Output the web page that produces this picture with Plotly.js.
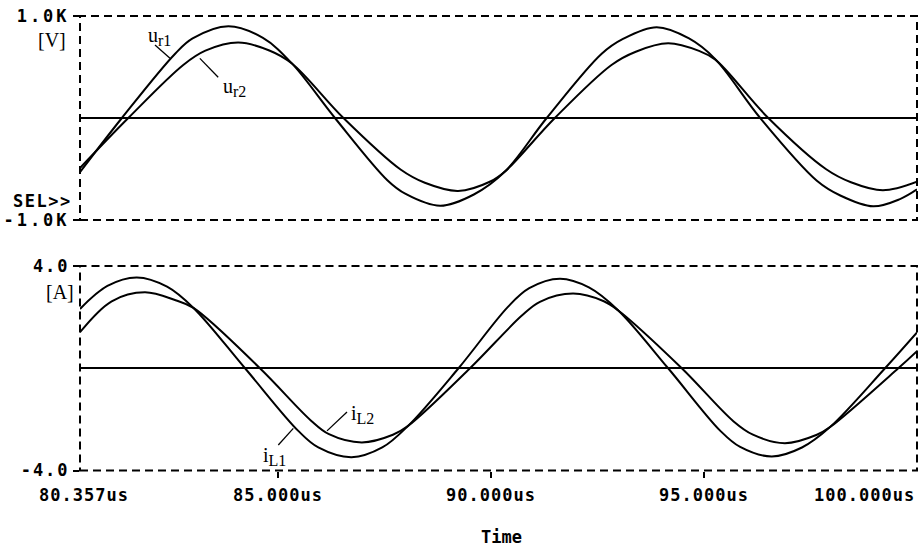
<!DOCTYPE html>
<html>
<head>
<meta charset="utf-8">
<script src="https://cdn.plot.ly/plotly-3.0.1.min.js"></script>
<style>
  html, body { margin: 0; padding: 0; background: #fff; }
  #chart { width: 922px; height: 550px; }
</style>
</head>
<body>
<div id="chart"></div>
<script>
// ---- data (time in microseconds) ----
const timeUr1 = [80.357, 81.34, 82.59, 83.0, 83.84, 84.65, 85.33, 86.34, 87.57, 88.0, 88.81, 89.6, 90.33, 91.31, 92.60, 93.1, 93.89, 94.65, 95.26, 96.32, 97.65, 98.2, 98.97, 99.6, 100];
const uR1     = [-530, 0, 630, 780, 900, 785, 535, 0, -610, -745, -860, -750, -525, 0, 630, 775, 890, 780, 580, 0, -615, -760, -866, -795, -700];

const timeUr2 = [80.357, 81.49, 82.78, 83.3, 84.07, 84.8, 85.33, 86.54, 87.88, 88.45, 89.23, 90.0, 90.33, 91.50, 92.83, 93.4, 94.16, 94.9, 95.26, 96.51, 97.86, 98.45, 99.20, 100];
const uR2     = [-490, 0, 520, 660, 740, 662, 535, 0, -505, -635, -715, -620, -525, 0, 520, 650, 732, 655, 575, 0, -500, -630, -709, -625];

const timeIL1 = [80.357, 81.0, 81.69, 82.4, 83.02, 84.23, 85.48, 85.95, 86.73, 87.45, 88.06, 89.24, 90.40, 90.9, 91.62, 92.3, 92.99, 94.16, 95.38, 95.85, 96.59, 97.3, 97.96, 99.25, 100];
const iL1     = [2.32, 3.22, 3.55, 3.19, 2.36, 0, -2.45, -3.10, -3.48, -3.10, -2.25, 0, 2.40, 3.13, 3.50, 3.16, 2.26, 0, -2.44, -3.08, -3.45, -3.10, -2.30, 0, 1.40];

const timeIL2 = [80.357, 81.1, 81.88, 82.6, 83.02, 84.58, 85.78, 86.2, 86.97, 87.7, 88.06, 89.51, 90.72, 91.15, 91.93, 92.65, 92.99, 94.48, 95.69, 96.15, 96.90, 97.65, 97.96, 99.56, 100];
const iL2     = [1.41, 2.62, 2.97, 2.66, 2.36, 0, -2.05, -2.58, -2.90, -2.60, -2.25, 0, 2.05, 2.60, 2.92, 2.62, 2.26, 0, -2.07, -2.60, -2.93, -2.60, -2.30, 0, 0.67];

const xTickValues = [80.357, 85, 90, 95, 100];
const xTickLabels = ['80.357us', '85.000us', '90.000us', '95.000us', '100.000us'];
const voltTickValues = [-1000, 1000];
const voltTickLabels = ['-1.0K', '1.0K'];
const ampTickValues = [-4, 4];
const ampTickLabels = ['-4.0', '4.0'];

// ---- styling ----
const MONO = {family: 'DejaVu Sans Mono, monospace', size: 17, color: '#000', weight: 'bold'};
const SERIF = {family: 'Liberation Serif, serif', size: 20, color: '#000'};
const lineStyle = {color: '#000', width: 2, shape: 'spline', smoothing: 1};
function spaced(s, px) { return '<span style="letter-spacing:' + px + 'px">' + s + '</span>'; }
function subLabel(main, sub) { return main + '<sub><span style="font-size:16px">' + sub + '</span></sub>'; }

const traces = [
  {x: timeUr1, y: uR1, xaxis: 'x', yaxis: 'y', mode: 'lines', line: lineStyle, name: 'u_r1'},
  {x: timeUr2, y: uR2, xaxis: 'x', yaxis: 'y', mode: 'lines', line: lineStyle, name: 'u_r2'},
  {x: timeIL1, y: iL1, xaxis: 'x2', yaxis: 'y2', mode: 'lines', line: lineStyle, name: 'i_L1'},
  {x: timeIL2, y: iL2, xaxis: 'x2', yaxis: 'y2', mode: 'lines', line: lineStyle, name: 'i_L2'}
];

const xRange = [xTickValues[0], xTickValues[xTickValues.length - 1]];

const yAxisCommon = {
  showgrid: false, zeroline: true, zerolinecolor: '#000', zerolinewidth: 2,
  ticks: 'outside', ticklen: 6, tickwidth: 2, tickcolor: '#000',
  showline: false, tickfont: MONO, fixedrange: true
};

const layout = {
  width: 922, height: 550,
  margin: {l: 80, r: 5, t: 0, b: 0},
  paper_bgcolor: '#fff', plot_bgcolor: '#fff',
  showlegend: false, hovermode: false,
  xaxis: {domain: [0, 1], range: xRange, anchor: 'y', showticklabels: false, showgrid: false,
          zeroline: false, ticks: '', showline: false, fixedrange: true},
  yaxis: Object.assign({domain: [1 - 220/550, 1 - 16/550], range: [-1000, 1000], anchor: 'x',
          tickmode: 'array', tickvals: voltTickValues,
          ticktext: voltTickLabels.map(function (s) { return spaced(s, 3); })}, yAxisCommon),
  xaxis2: {domain: [0, 1], range: xRange, anchor: 'y2', showticklabels: false, showgrid: false,
           zeroline: false, ticks: 'outside', ticklen: 6, tickwidth: 2, tickcolor: '#000',
           tickmode: 'array', tickvals: xTickValues.slice(1, -1), showline: false, fixedrange: true},
  yaxis2: Object.assign({domain: [1 - 470.5/550, 1 - 266/550], range: [-4, 4], anchor: 'x2',
           tickmode: 'array', tickvals: ampTickValues,
           ticktext: ampTickLabels.map(function (s) { return spaced(s, 2); })}, yAxisCommon),
  shapes: [
    {type: 'rect', xref: 'x domain', yref: 'y domain', x0: 0, x1: 1, y0: 0, y1: 1,
     line: {color: '#000', width: 2, dash: '8px,5px'}},
    {type: 'rect', xref: 'x2 domain', yref: 'y2 domain', x0: 0, x1: 1, y0: 0, y1: 1,
     line: {color: '#000', width: 2, dash: '8px,5px'}},
    // label leader lines
    {type: 'line', xref: 'x', yref: 'y', x0: 82.117, y0: 716, x1: 82.469, y1: 585, line: {color: '#000', width: 1.3}},
    {type: 'line', xref: 'x', yref: 'y', x0: 83.17, y0: 585, x1: 83.60, y1: 400, line: {color: '#000', width: 1.3}},
    {type: 'line', xref: 'x2', yref: 'y2', x0: 86.154, y0: -2.45, x1: 86.623, y1: -1.71, line: {color: '#000', width: 1.3}},
    {type: 'line', xref: 'x2', yref: 'y2', x0: 85.011, y0: -3.00, x1: 85.363, y1: -2.35, line: {color: '#000', width: 1.3}}
  ],
  annotations: []
};

// x tick labels under the lower plot
xTickLabels.forEach(function (lbl, i) {
  const a = {xref: 'x2', yref: 'paper', x: xTickValues[i], y: 1 - 495/550, text: spaced(lbl, 1),
             showarrow: false, font: MONO, xanchor: 'center', yanchor: 'middle'};
  if (i === 0) { a.xshift = 4; }
  if (i === xTickLabels.length - 1) { a.xanchor = 'right'; }
  layout.annotations.push(a);
});

layout.annotations.push(
  {xref: 'paper', yref: 'paper', x: (501 - 80) / 837, y: 1 - 537/550, text: 'Time', showarrow: false,
   font: MONO, xanchor: 'center', yanchor: 'middle'},
  {xref: 'paper', yref: 'paper', x: (68 - 80) / 837, y: 1 - 40/550, text: '[V]', showarrow: false,
   font: SERIF, xanchor: 'right', yanchor: 'middle'},
  {xref: 'paper', yref: 'paper', x: (74 - 80) / 837, y: 1 - 201/550, text: spaced('SEL>>', 1.5), showarrow: false,
   font: MONO, xanchor: 'right', yanchor: 'middle'},
  {xref: 'paper', yref: 'paper', x: (76 - 80) / 837, y: 1 - 292/550, text: '[A]', showarrow: false,
   font: SERIF, xanchor: 'right', yanchor: 'middle'},
  {xref: 'x', yref: 'y', x: 81.906, y: 800, text: subLabel('u', 'r1'), showarrow: false,
   font: SERIF, xanchor: 'left', yanchor: 'middle'},
  {xref: 'x', yref: 'y', x: 83.666, y: 300, text: subLabel('u', 'r2'), showarrow: false,
   font: SERIF, xanchor: 'left', yanchor: 'middle'},
  {xref: 'x2', yref: 'y2', x: 86.67, y: -1.80, text: subLabel('i', 'L2'), showarrow: false,
   font: SERIF, xanchor: 'left', yanchor: 'middle'},
  {xref: 'x2', yref: 'y2', x: 84.605, y: -3.45, text: subLabel('i', 'L1'), showarrow: false,
   font: SERIF, xanchor: 'left', yanchor: 'middle'}
);

Plotly.newPlot('chart', traces, layout, {displayModeBar: false, staticPlot: true});
</script>
</body>
</html>
